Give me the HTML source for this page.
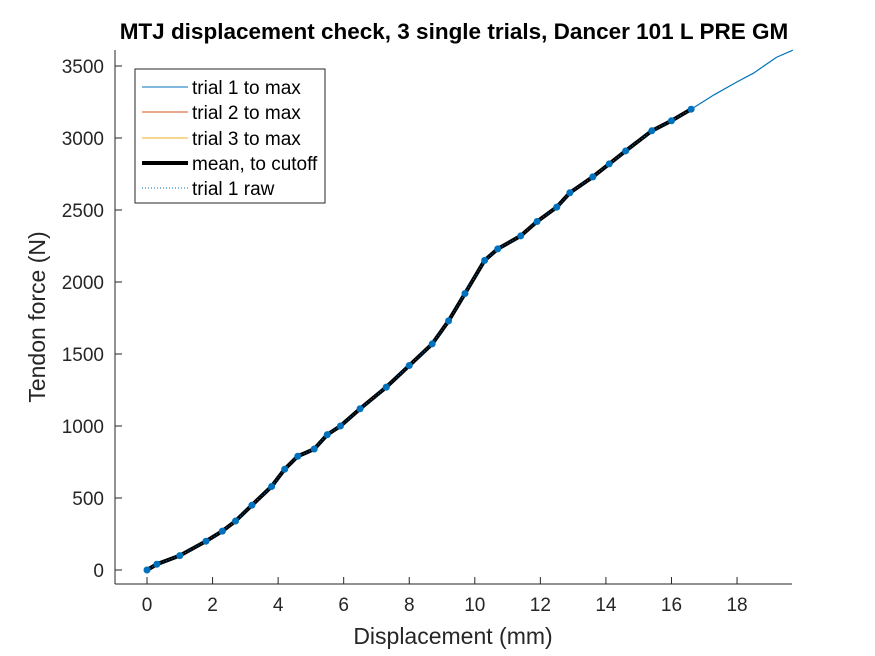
<!DOCTYPE html>
<html><head><meta charset="utf-8"><style>
body{margin:0;background:#fff;}
svg{display:block;font-family:"Liberation Sans",Arial,sans-serif;}
</style></head><body>
<svg id="chart" width="875" height="656" viewBox="0 0 875 656">
<rect width="875" height="656" fill="#fff"/>
<text x="454" y="39" text-anchor="middle" font-size="22.5" font-weight="bold" fill="#000">MTJ displacement check, 3 single trials, Dancer 101 L PRE GM</text>
<g id="axes"></g>
<g id="series"></g>
<text x="453" y="644" text-anchor="middle" font-size="23" fill="#262626">Displacement (mm)</text>
<text transform="translate(45,317) rotate(-90)" text-anchor="middle" font-size="23" fill="#262626">Tendon force (N)</text>
<g>
<rect x="135" y="69" width="190" height="134" fill="#fff" stroke="#262626" stroke-width="1"/>
<line x1="142" y1="87" x2="188" y2="87" stroke="#0072BD" stroke-width="1"/>
<text x="192" y="94" font-size="19" fill="#000">trial 1 to max</text>
<line x1="142" y1="112" x2="188" y2="112" stroke="#D95319" stroke-width="1"/>
<text x="192" y="119" font-size="19" fill="#000">trial 2 to max</text>
<line x1="142" y1="138" x2="188" y2="138" stroke="#EDB120" stroke-width="1"/>
<text x="192" y="145" font-size="19" fill="#000">trial 3 to max</text>
<line x1="142" y1="163" x2="188" y2="163" stroke="#000" stroke-width="4"/>
<text x="192" y="170" font-size="19" fill="#000">mean, to cutoff</text>
<line x1="142" y1="188" x2="188" y2="188" stroke="#0072BD" stroke-width="1" stroke-dasharray="1,2"/>
<text x="192" y="195" font-size="19" fill="#000">trial 1 raw</text>
</g>
</svg>
<script>
const xTicks=[0,2,4,6,8,10,12,14,16,18];
const yTicks=[0,500,1000,1500,2000,2500,3000,3500];
const meanX=[0,0.3,1,1.8,2.3,2.7,3.2,3.8,4.2,4.6,5.1,5.5,5.9,6.5,7.3,8,8.7,9.2,9.7,10.3,10.7,11.4,11.9,12.5,12.9,13.6,14.1,14.6,15.4,16,16.6];
const meanY=[0,40,100,200,270,340,450,580,700,790,840,940,1000,1120,1270,1420,1570,1730,1920,2150,2230,2320,2420,2520,2620,2730,2820,2910,3050,3120,3200];
const rawX=[17.3,18,18.5,19.2,19.7];
const rawY=[3300,3390,3450,3560,3610];
const NS="http://www.w3.org/2000/svg";
const sx=v=>147+32.78*v, sy=v=>570-0.144*v;
const ax=document.getElementById('axes'), se=document.getElementById('series');
function mk(tag,attrs,parent){const e=document.createElementNS(NS,tag);for(const k in attrs)e.setAttribute(k,attrs[k]);parent.appendChild(e);return e;}
const xl=mk('line',{x1:115,y1:584,x2:792,y2:584,stroke:'#262626'},ax);


const yl=mk('line',{x1:115,y1:50,x2:115,y2:584,stroke:'#262626'},ax);


xTicks.forEach(t=>{
 mk('line',{x1:sx(t),y1:584,x2:sx(t),y2:577,stroke:'#262626'},ax);
 const tx=mk('text',{x:sx(t),y:611,'text-anchor':'middle','font-size':19,fill:'#262626'},ax);
 tx.textContent=t;
 
 
});
yTicks.forEach(t=>{
 mk('line',{x1:115,y1:sy(t),x2:122,y2:sy(t),stroke:'#262626'},ax);
 const tx=mk('text',{x:104,y:sy(t)+7,'text-anchor':'end','font-size':19,fill:'#262626'},ax);
 tx.textContent=t;
 
 
});
const allX=meanX.concat(rawX), allY=meanY.concat(rawY);
const p1=mk('polyline',{points:allX.map((x,i)=>sx(x)+','+sy(allY[i])).join(' '),fill:'none',stroke:'#0072BD','stroke-width':1.2},se);


const pm=mk('polyline',{points:meanX.map((x,i)=>sx(x)+','+sy(meanY[i])).join(' '),fill:'none',stroke:'#000','stroke-width':4},se);


const pr=mk('polyline',{points:meanX.map((x,i)=>sx(x)+','+sy(meanY[i])).join(' '),fill:'none',stroke:'#0072BD','stroke-width':1,'stroke-dasharray':'1,2'},se);


meanX.forEach((x,i)=>{
 const c=mk('circle',{cx:sx(x),cy:sy(meanY[i]),r:3.5,fill:'#0072BD'},se);
 
 
});
</script>
</body></html>
